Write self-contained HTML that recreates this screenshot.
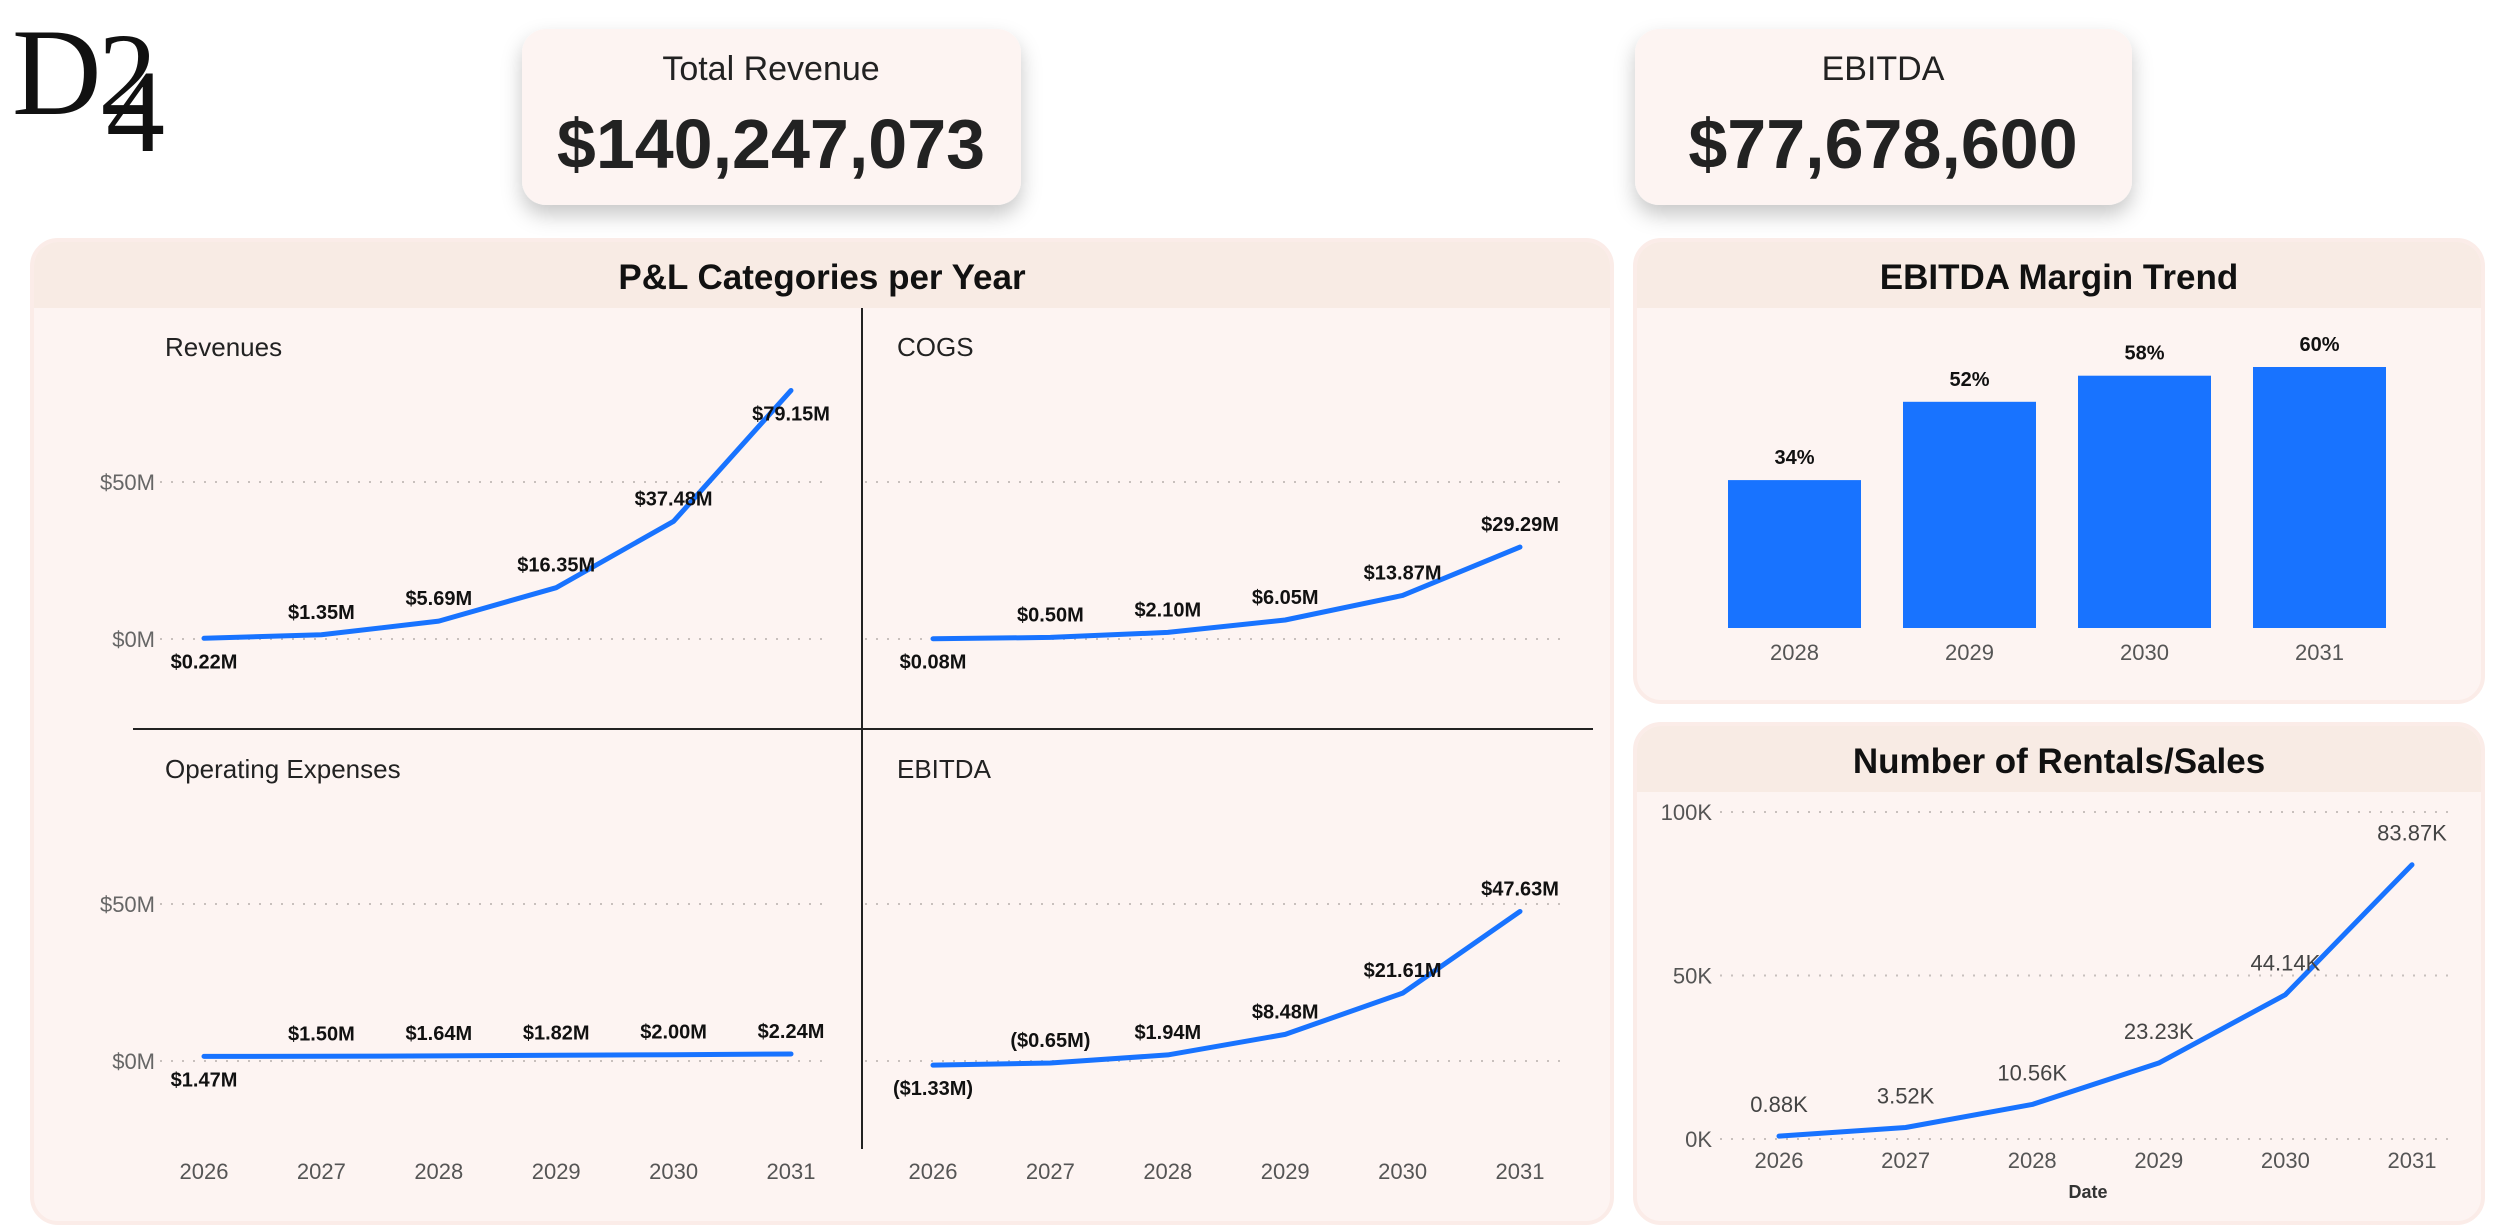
<!DOCTYPE html>
<html><head><meta charset="utf-8"><style>
html,body{margin:0;padding:0;background:#fff;width:2500px;height:1230px;overflow:hidden}
svg{display:block}
text{font-family:"Liberation Sans",sans-serif}
text.serif{font-family:"Liberation Serif",serif}
</style></head><body>
<svg id="root" width="2500" height="1230" viewBox="0 0 2500 1230" xmlns="http://www.w3.org/2000/svg">
<defs>
<filter id="sh" x="-20%" y="-20%" width="140%" height="160%"><feDropShadow dx="0" dy="10" stdDeviation="10" flood-color="#000" flood-opacity="0.22"/></filter>
</defs>
<g>
<text class="serif" x="12" y="114" font-size="124" fill="#111">D</text>
<text class="serif" x="98" y="114" font-size="118" fill="#111">2</text>
<text class="serif" x="106" y="151" font-size="118" fill="#111">4</text>
</g>
<g>
<rect x="522" y="29" width="499" height="176" rx="24" fill="#fdf4f2" filter="url(#sh)"/>
<text x="771" y="80" text-anchor="middle" font-size="34" fill="#222">Total Revenue</text>
<text x="771" y="168" text-anchor="middle" font-size="70" font-weight="bold" fill="#222">$140,247,073</text>
</g>
<g>
<rect x="1635" y="29" width="497" height="176" rx="24" fill="#fdf4f2" filter="url(#sh)"/>
<text x="1883" y="80" text-anchor="middle" font-size="34" fill="#222">EBITDA</text>
<text x="1883" y="168" text-anchor="middle" font-size="70" font-weight="bold" fill="#222">$77,678,600</text>
</g>
<g>
<rect x="32" y="240" width="1580" height="983" rx="26" fill="#fdf4f2" stroke="#fbece8" stroke-width="4"/>
<path d="M34 308 V266 a24 24 0 0 1 24 -24 H1586 a24 24 0 0 1 24 24 V308 Z" fill="#f8ebe4"/>
<text x="822" y="289" text-anchor="middle" font-size="35" font-weight="bold" fill="#111">P&amp;L Categories per Year</text>
<line x1="862" y1="308" x2="862" y2="1149" stroke="#222" stroke-width="2"/>
<line x1="133" y1="729" x2="1593" y2="729" stroke="#222" stroke-width="2"/>
<g id="pl"></g>
</g>
<g>
<rect x="1635" y="240" width="848" height="462" rx="26" fill="#fdf4f2" stroke="#fbece8" stroke-width="4"/>
<path d="M1637 308 V266 a24 24 0 0 1 24 -24 H2457 a24 24 0 0 1 24 24 V308 Z" fill="#f8ebe4"/>
<text x="2059" y="289" text-anchor="middle" font-size="35" font-weight="bold" fill="#111">EBITDA Margin Trend</text>
<g id="bars"></g>
</g>
<g>
<rect x="1635" y="724" width="848" height="499" rx="26" fill="#fdf4f2" stroke="#fbece8" stroke-width="4"/>
<path d="M1637 792 V750 a24 24 0 0 1 24 -24 H2457 a24 24 0 0 1 24 24 V792 Z" fill="#f8ebe4"/>
<text x="2059" y="773" text-anchor="middle" font-size="35" font-weight="bold" fill="#111">Number of Rentals/Sales</text>
<g id="rent"></g>
</g>
</svg>
<script>
const years = ["2026","2027","2028","2029","2030","2031"];
const revenues = [0.22, 1.35, 5.69, 16.35, 37.48, 79.15];
const cogs = [0.08, 0.50, 2.10, 6.05, 13.87, 29.29];
const opex = [1.47, 1.50, 1.64, 1.82, 2.00, 2.24];
const ebitda = [-1.33, -0.65, 1.94, 8.48, 21.61, 47.63];
const plTicks = [0, 50];
const marginYears = ["2028","2029","2030","2031"];
const margins = [34, 52, 58, 60];
const rentals = [0.88, 3.52, 10.56, 23.23, 44.14, 83.87];
const rentTicks = [0, 50, 100];

const NS = "http://www.w3.org/2000/svg";
function mk(tag, attrs, parent, txt){
  const e = document.createElementNS(NS, tag);
  for (const k in attrs) e.setAttribute(k, attrs[k]);
  if (txt !== undefined) e.textContent = txt;
  parent.appendChild(e);
  return e;
}
const BLUE = "#1873ff";
function fmtM(v){ const s = "$" + Math.abs(v).toFixed(2) + "M"; return v < 0 ? "(" + s + ")" : s; }

const pl = document.getElementById("pl");
const quads = [
  {title:"Revenues", data:revenues, x0:204, zero:639, axis:true, tx:165, ty:356},
  {title:"COGS", data:cogs, x0:933, zero:639, axis:false, tx:897, ty:356},
  {title:"Operating Expenses", data:opex, x0:204, zero:1061, axis:true, tx:165, ty:778},
  {title:"EBITDA", data:ebitda, x0:933, zero:1061, axis:false, tx:897, ty:778}
];
const step = 117.4, pxPerM = 157/50;
quads.forEach(function(q, qi){
  const g = mk("g", {}, pl);
  
  
  const t = mk("text", {x:q.tx, y:q.ty, "font-size":26, fill:"#222"}, g, q.title);
  
  
  const xS = i => q.x0 + i*step;
  const yS = v => q.zero - v*pxPerM;
  const gx1 = q.axis ? 160 : 865, gx2 = q.axis ? 830 : 1563;
  plTicks.forEach(function(tv){
    const gl = mk("line", {x1:gx1, x2:gx2, y1:yS(tv), y2:yS(tv), stroke:"#c8c0bd", "stroke-width":2, "stroke-dasharray":"2 9"}, g);
    
    
    if (q.axis){
      const tl = mk("text", {x:155, y:yS(tv)+8, "text-anchor":"end", "font-size":22, fill:"#666"}, g, "$" + tv + "M");
      
      
    }
  });
  if (qi >= 2){
    years.forEach(function(y, i){
      const xl = mk("text", {x:xS(i), y:1179, "text-anchor":"middle", "font-size":22, fill:"#555"}, g, y);
      
      
    });
  }
  const pts = q.data.map((v,i) => xS(i) + "," + yS(v)).join(" ");
  const line = mk("polyline", {points:pts, fill:"none", stroke:BLUE, "stroke-width":5, "stroke-linejoin":"round", "stroke-linecap":"round"}, g);
  
  
  const top = q.zero - 250;
  q.data.forEach(function(v, i){
    const py = yS(v);
    const below = i === 0 || py < top + 40;
    const ly = below ? py + 30 : py - 16;
    const lab = mk("text", {x:xS(i), y:ly, "text-anchor":"middle", "font-size":20, "font-weight":"bold", fill:"#111"}, g, fmtM(v));
    
    
  });
});

const bars = document.getElementById("bars");
const bx0 = 1728, bstep = 175, bw = 133, bBase = 628, pxPerPct = 261/60;
margins.forEach(function(m, i){
  const x = bx0 + i*bstep, h = m*pxPerPct;
  const r = mk("rect", {x:x, y:bBase-h, width:bw, height:h, fill:BLUE}, bars);
  
  
  const l = mk("text", {x:x+bw/2, y:bBase-h-16, "text-anchor":"middle", "font-size":20, "font-weight":"bold", fill:"#111"}, bars, m + "%");
  
  
  const xl = mk("text", {x:x+bw/2, y:660, "text-anchor":"middle", "font-size":22, fill:"#555"}, bars, marginYears[i]);
  
  
});

const rent = document.getElementById("rent");
const rx = i => 1779 + i*126.6;
const ry = v => 1139 - v*3.27;
rentTicks.forEach(function(tv){
  const gl = mk("line", {x1:1720, x2:2452, y1:ry(tv), y2:ry(tv), stroke:"#c8c0bd", "stroke-width":2, "stroke-dasharray":"2 9"}, rent);
  
  
  const tl = mk("text", {x:1712, y:ry(tv)+8, "text-anchor":"end", "font-size":22, fill:"#555"}, rent, tv + "K");
  
  
});
years.forEach(function(y, i){
  const xl = mk("text", {x:rx(i), y:1168, "text-anchor":"middle", "font-size":22, fill:"#555"}, rent, y);
  
  
});
const dl = mk("text", {x:2088, y:1198, "text-anchor":"middle", "font-size":18, "font-weight":"bold", fill:"#333"}, rent, "Date");


const rl = mk("polyline", {points:rentals.map((v,i)=>rx(i)+","+ry(v)).join(" "), fill:"none", stroke:BLUE, "stroke-width":5, "stroke-linejoin":"round", "stroke-linecap":"round"}, rent);


rentals.forEach(function(v, i){
  const l = mk("text", {x:rx(i), y:ry(v)-24, "text-anchor":"middle", "font-size":22, fill:"#444"}, rent, v.toFixed(2) + "K");
  
  
});
</script>
</body></html>
